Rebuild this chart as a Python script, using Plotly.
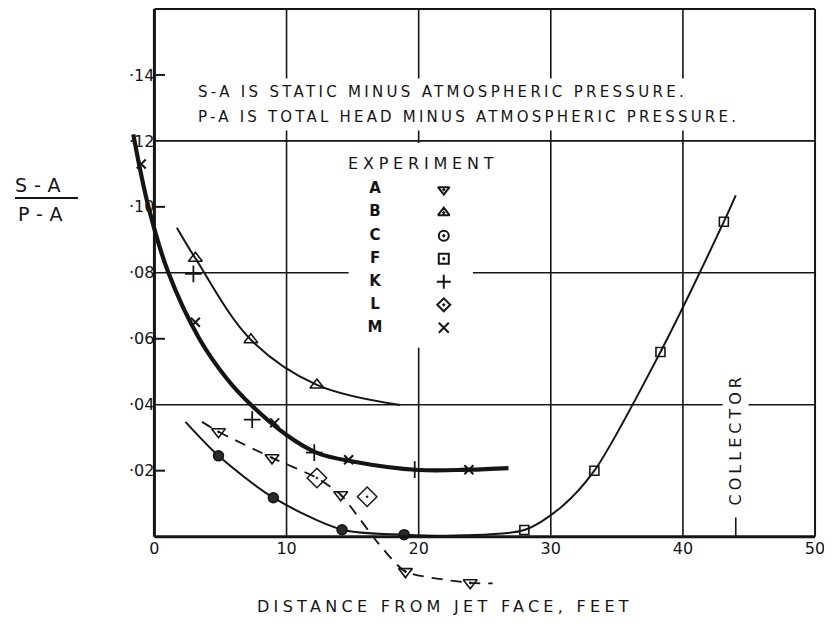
import plotly.graph_objects as go

# ---------------- data ----------------
# thick curve (experiments K and M)
thick_x = [-1.6, -0.45, 1.06, 3.4, 5.5, 7.3, 10.0, 12.3, 15.0, 20.0, 23.8, 26.8]
thick_y = [0.122, 0.100, 0.080, 0.060, 0.0478, 0.040, 0.0308, 0.0254, 0.0228, 0.0202, 0.0203, 0.0208]

# curve through experiment B
curve_b_x = [1.7, 3.1, 7.3, 12.3, 18.6]
curve_b_y = [0.0937, 0.0844, 0.0597, 0.0460, 0.0399]

# curve through experiments C and F
curve_cf_x = [2.35, 4.85, 9.0, 14.2, 18.9, 23.5, 28.0, 30.8, 33.3, 38.3, 43.1, 44.0]
curve_cf_y = [0.0348, 0.0245, 0.0118, 0.0021, 0.0006, 0.0004, 0.0020, 0.0090, 0.0200, 0.0560, 0.0955, 0.1035]

# dashed curve through experiment A
curve_a_x = [3.6, 4.85, 8.9, 12.3, 14.1, 16.9, 19.0, 23.9, 25.6]
curve_a_y = [0.0348, 0.0318, 0.0239, 0.0178, 0.0127, -0.0018, -0.0106, -0.0140, -0.0142]

# experiment points
exp_a_x = [4.85, 8.9, 14.1, 19.0, 23.9]
exp_a_y = [0.0318, 0.0239, 0.0127, -0.0106, -0.0140]
exp_b_x = [3.1, 7.3, 12.3]
exp_b_y = [0.0844, 0.0597, 0.0460]
exp_c_x = [4.85, 9.0, 14.2, 18.9]
exp_c_y = [0.0245, 0.0118, 0.0021, 0.0006]
exp_f_x = [28.0, 33.3, 38.3, 43.1]
exp_f_y = [0.0020, 0.0200, 0.0560, 0.0955]
exp_k_x = [2.95, 7.4, 12.1, 19.7]
exp_k_y = [0.0797, 0.0355, 0.0255, 0.0203]
exp_l_x = [12.3, 16.1]
exp_l_y = [0.0178, 0.0121]
exp_m_x = [-1.0, 3.1, 9.1, 14.7, 23.8]
exp_m_y = [0.113, 0.065, 0.0345, 0.0233, 0.0203]

# axes
x_ticks = [0, 10, 20, 30, 40, 50]
y_ticks = [0.02, 0.04, 0.06, 0.08, 0.10, 0.12, 0.14]
y_tick_text = ["·02", "·04", "·06", "·08", "·10", "·12", "·14"]
x_grid = [10, 20, 30, 40]
y_grid = [0.04, 0.08, 0.12]
y_short_ticks = [0.02, 0.06, 0.10, 0.14]
collector_x = 44.0

legend_letters = ["A", "B", "C", "F", "K", "L", "M"]
legend_symbols = ["triangle-down-open-dot", "triangle-up-open-dot", "circle-open-dot",
                  "square-open-dot", "cross-thin-open", "diamond-open-dot", "x-thin-open"]

note_1 = "S-A IS STATIC MINUS ATMOSPHERIC PRESSURE."
note_2 = "P-A IS TOTAL HEAD MINUS ATMOSPHERIC PRESSURE."
x_title = "DISTANCE FROM JET FACE, FEET"

# ---------------- styling ----------------
INK = "#151515"
FONT = "DejaVu Sans"
X_RANGE = [-2.0, 50.3]
Y_RANGE = [-0.018, 0.1603]


def spaced(txt, px):
    return f"<span style='letter-spacing:{px}px'>{txt}</span>"


fig = go.Figure()

line_common = dict(mode="lines", hoverinfo="skip", showlegend=False)
fig.add_trace(go.Scatter(x=thick_x, y=thick_y, line=dict(color=INK, width=4.2, shape="spline", smoothing=1.0), **line_common))
fig.add_trace(go.Scatter(x=curve_b_x, y=curve_b_y, line=dict(color=INK, width=2, shape="spline"), **line_common))
fig.add_trace(go.Scatter(x=curve_cf_x, y=curve_cf_y, line=dict(color=INK, width=2, shape="spline", smoothing=0.8), **line_common))
fig.add_trace(go.Scatter(x=curve_a_x, y=curve_a_y, line=dict(color=INK, width=1.8, shape="spline", smoothing=0.6, dash="11px,8px"), **line_common))

mk_common = dict(mode="markers", hoverinfo="skip", showlegend=False, cliponaxis=False)
fig.add_trace(go.Scatter(x=exp_a_x, y=exp_a_y, marker=dict(symbol="triangle-down-open-dot", size=12, color=INK, line=dict(width=1.6, color=INK)), **mk_common))
fig.add_trace(go.Scatter(x=exp_b_x, y=exp_b_y, marker=dict(symbol="triangle-up-open", size=12, color=INK, line=dict(width=1.6, color=INK)), **mk_common))
fig.add_trace(go.Scatter(x=exp_c_x, y=exp_c_y, marker=dict(symbol="circle", size=10, color="#2a2a2a", line=dict(width=1.5, color=INK)), **mk_common))
fig.add_trace(go.Scatter(x=exp_f_x, y=exp_f_y, marker=dict(symbol="square-open", size=9, color=INK, line=dict(width=1.6, color=INK)), **mk_common))
fig.add_trace(go.Scatter(x=exp_k_x, y=exp_k_y, marker=dict(symbol="cross-thin-open", size=12, color=INK, line=dict(width=1.8, color=INK)), **mk_common))
fig.add_trace(go.Scatter(x=exp_l_x, y=exp_l_y, marker=dict(symbol="diamond-open-dot", size=15, color=INK, line=dict(width=1.5, color=INK)), **mk_common))
fig.add_trace(go.Scatter(x=exp_m_x, y=exp_m_y, marker=dict(symbol="x-thin-open", size=9, color=INK, line=dict(width=2, color=INK)), **mk_common))

# legend ("EXPERIMENT" table) drawn in data space
leg_top = 0.1052
leg_step = 0.00698
leg_y = [leg_top - i * leg_step for i in range(len(legend_letters))]
fig.add_trace(go.Scatter(x=[16.7] * len(legend_letters), y=leg_y, mode="text", text=legend_letters,
                         textfont=dict(family=FONT, size=15, color=INK, weight="bold"),
                         hoverinfo="skip", showlegend=False))
fig.add_trace(go.Scatter(x=[21.9] * len(legend_letters), y=leg_y, mode="markers",
                         marker=dict(symbol=legend_symbols, size=10, color=INK, line=dict(width=2, color=INK)),
                         hoverinfo="skip", showlegend=False))

shapes = []
for gx in x_grid:
    shapes.append(dict(type="line", xref="x", yref="y", x0=gx, x1=gx, y0=0, y1=0.16,
                       line=dict(color=INK, width=1.6), layer="below"))
for gy in y_grid:
    shapes.append(dict(type="line", xref="x", yref="y", x0=0, x1=50, y0=gy, y1=gy,
                       line=dict(color=INK, width=1.6), layer="below"))
# short inside ticks on the left axis
for ty in y_short_ticks:
    shapes.append(dict(type="line", xref="x", yref="y", x0=0, x1=0.8, y0=ty, y1=ty,
                       line=dict(color=INK, width=2)))
# blank area behind the experiment table
shapes.append(dict(type="rect", xref="x", yref="y", x0=14.7, x1=24.1, y0=0.0573, y1=0.1194,
                   fillcolor="white", line=dict(width=0), layer="below"))
# frame
shapes.append(dict(type="line", xref="x", yref="y", x0=0, x1=0, y0=0, y1=0.16, line=dict(color=INK, width=3)))
shapes.append(dict(type="line", xref="x", yref="y", x0=0, x1=50, y0=0, y1=0, line=dict(color=INK, width=3)))
shapes.append(dict(type="line", xref="x", yref="y", x0=0, x1=50, y0=0.16, y1=0.16, line=dict(color=INK, width=2)))
shapes.append(dict(type="line", xref="x", yref="y", x0=50, x1=50, y0=0, y1=0.16, line=dict(color=INK, width=2)))
# collector mark
shapes.append(dict(type="line", xref="x", yref="y", x0=collector_x, x1=collector_x, y0=0, y1=0.0058,
                   line=dict(color=INK, width=1.6)))
# y-label fraction bar
shapes.append(dict(type="line", xref="paper", yref="paper", x0=-0.1635, x1=-0.0724, y0=0.677, y1=0.677,
                   line=dict(color=INK, width=2)))

annotations = [
    dict(x=2.9, y=0.1348, xref="x", yref="y", text=spaced(note_1, 3.3), showarrow=False,
         xanchor="left", yanchor="middle", bgcolor="white", borderpad=4,
         font=dict(family=FONT, size=15, color=INK)),
    dict(x=2.9, y=0.1273, xref="x", yref="y", text=spaced(note_2, 3.2), showarrow=False,
         xanchor="left", yanchor="middle", bgcolor="white", borderpad=4,
         font=dict(family=FONT, size=15, color=INK)),
    dict(x=20.3, y=0.1133, xref="x", yref="y", text=spaced("EXPERIMENT", 4.8), showarrow=False,
         xanchor="center", yanchor="middle", font=dict(family=FONT, size=16, color=INK)),
    dict(x=collector_x, y=0.0294, xref="x", yref="y", text=spaced("COLLECTOR", 4), showarrow=False,
         textangle=-90, xanchor="center", yanchor="middle", bgcolor="white", borderpad=3,
         font=dict(family=FONT, size=16, color=INK)),
    dict(x=0.459, y=-0.018, xref="paper", yref="paper", text=spaced(x_title, 4.3),
         showarrow=False, xanchor="center", yanchor="middle",
         font=dict(family=FONT, size=16, color=INK)),
    dict(x=-0.125, y=0.699, xref="paper", yref="paper", text=spaced("S-A", 7), showarrow=False,
         xanchor="center", yanchor="middle", font=dict(family=FONT, size=19, color=INK)),
    dict(x=-0.122, y=0.650, xref="paper", yref="paper", text=spaced("P-A", 7), showarrow=False,
         xanchor="center", yanchor="middle", font=dict(family=FONT, size=19, color=INK)),
]

fig.update_layout(
    width=832, height=623,
    margin=dict(l=120, r=21, t=0, b=35),
    paper_bgcolor="white", plot_bgcolor="white",
    showlegend=False,
    shapes=shapes,
    annotations=annotations,
    font=dict(family=FONT, color=INK),
    xaxis=dict(range=X_RANGE, tickvals=x_ticks, ticktext=[str(v) for v in x_ticks],
               showgrid=False, zeroline=False, showline=False, ticks="",
               anchor="free", position=(0 - Y_RANGE[0]) / (Y_RANGE[1] - Y_RANGE[0]),
               tickfont=dict(family=FONT, size=16, color=INK)),
    yaxis=dict(range=Y_RANGE, tickvals=y_ticks, ticktext=y_tick_text,
               showgrid=False, zeroline=False, showline=False, ticks="",
               anchor="free", position=(0 - X_RANGE[0]) / (X_RANGE[1] - X_RANGE[0]),
               tickfont=dict(family=FONT, size=16, color=INK)),
)

fig.write_html("out.html")
